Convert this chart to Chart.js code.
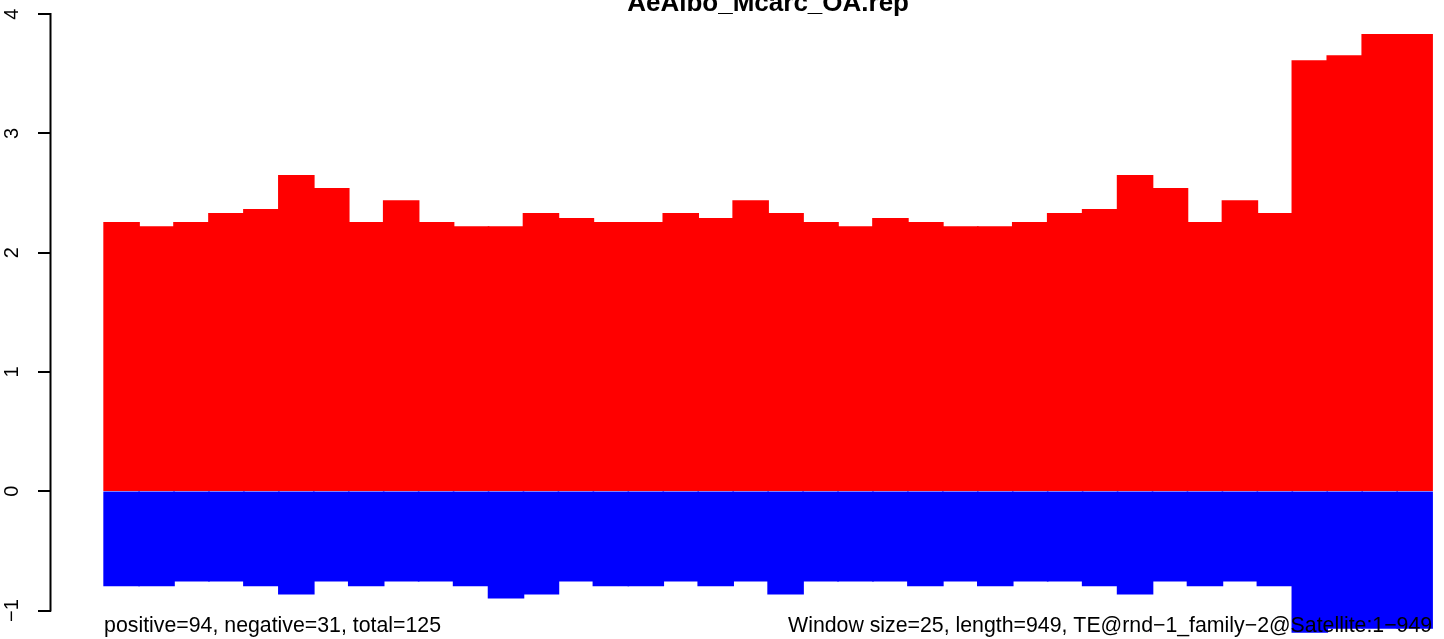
<!DOCTYPE html>
<html>
<head>
<meta charset="utf-8">
<script src="https://cdn.jsdelivr.net/npm/chart.js@4.4.1/dist/chart.umd.min.js"></script>
<style>
  html, body { margin: 0; padding: 0; background: #ffffff; }
  #wrap { width: 1444px; height: 639px; overflow: hidden; }
  canvas { display: block; }
</style>
</head>
<body>
<div id="wrap"><canvas id="c" width="1444" height="639"></canvas></div>
<script>
// ---- data ----
const chartTitle = "AeAlbo_Mcarc_OA.rep";
const leftNote = "positive=94, negative=31, total=125";
const rightNote = "Window size=25, length=949, TE@rnd\u22121_family\u22122@Satellite:1\u2212949";

const windowIndex = [1, 2, 3, 4, 5, 6, 7, 8, 9, 10,
                     11, 12, 13, 14, 15, 16, 17, 18, 19, 20,
                     21, 22, 23, 24, 25, 26, 27, 28, 29, 30,
                     31, 32, 33, 34, 35, 36, 37, 38];

const positiveValues = [2.25, 2.215, 2.25, 2.327, 2.36, 2.645, 2.536, 2.25, 2.433, 2.25,
                        2.215, 2.215, 2.327, 2.285, 2.25, 2.25, 2.327, 2.285, 2.433, 2.327,
                        2.25, 2.215, 2.285, 2.25, 2.215, 2.215, 2.25, 2.327, 2.36, 2.645,
                        2.536, 2.25, 2.433, 2.327, 3.607, 3.649, 3.827, 3.827];

const negativeValues = [-0.79, -0.79, -0.749, -0.749, -0.79, -0.858, -0.749, -0.79, -0.749, -0.749,
                        -0.79, -0.892, -0.858, -0.749, -0.79, -0.79, -0.749, -0.79, -0.749, -0.858,
                        -0.749, -0.749, -0.749, -0.79, -0.749, -0.79, -0.749, -0.749, -0.79, -0.858,
                        -0.749, -0.79, -0.749, -0.79, -1.18, -1.146, -1.146, -1.146];

const yTickValues = [-1, 0, 1, 2, 3, 4];

// ---- chart ----
const FONT = "'Liberation Sans', Arial, Helvetica, sans-serif";
const nWin = windowIndex.length;
const xPad = 0.04 * nWin;
const xMin = windowIndex[0] - 0.5 - xPad;
// chart area runs from x=51 to the canvas edge; one window is ~34.95 px wide
const xMax = xMin + (1444 - 51) / ((1432 - 104) / nWin);
const yMin = -(639 - 491.3) / 119.3;
const yMax = (491.3 - 11) / 119.3;

const rAxisAndNotes = {
  id: 'rAxisAndNotes',
  afterDatasetsDraw(chart) {
    const ctx = chart.ctx;
    const y = chart.scales.y, x = chart.scales.x;
    ctx.save();
    // axis line only between first and last tick, like R's axis()
    ctx.strokeStyle = '#000';
    ctx.lineWidth = 2;
    ctx.beginPath();
    const ax = y.right - 0.5;
    ctx.moveTo(ax, y.getPixelForValue(yTickValues[yTickValues.length - 1]) - 1);
    ctx.lineTo(ax, y.getPixelForValue(yTickValues[0]) + 1);
    ctx.stroke();
    // title, centred over the bars and clipped by the top edge
    const xc = (x.getPixelForValue(windowIndex[0] - 0.5) + x.getPixelForValue(windowIndex[nWin - 1] + 0.5)) / 2;
    ctx.fillStyle = '#000';
    ctx.font = "bold 26px " + FONT;
    ctx.textAlign = 'center';
    ctx.textBaseline = 'alphabetic';
    ctx.fillText(chartTitle, xc, 11);
    // notes under the bars
    ctx.font = "21.3px " + FONT;
    const base = 632;
    ctx.textAlign = 'left';
    ctx.fillText(leftNote, x.getPixelForValue(windowIndex[0] - 0.5), base);
    ctx.textAlign = 'right';
    ctx.fillText(rightNote, x.getPixelForValue(windowIndex[nWin - 1] + 0.5), base);
    ctx.restore();
  }
};

new Chart(document.getElementById('c'), {
  type: 'bar',
  data: {
    datasets: [
      {
        label: 'positive',
        data: windowIndex.map((w, i) => ({ x: w, y: positiveValues[i] })),
        backgroundColor: '#ff0000',
        borderWidth: 0,
        barPercentage: 1,
        categoryPercentage: 1,
        inflateAmount: 0.8
      },
      {
        label: 'negative',
        data: windowIndex.map((w, i) => ({ x: w, y: negativeValues[i] })),
        backgroundColor: '#0000ff',
        borderWidth: 0,
        barPercentage: 1,
        categoryPercentage: 1,
        inflateAmount: 0.8
      }
    ]
  },
  options: {
    responsive: false,
    animation: false,
    devicePixelRatio: 1,
    layout: { padding: { left: 0, right: 0, top: 11, bottom: 0 } },
    plugins: {
      legend: { display: false },
      tooltip: { enabled: false },
      title: { display: false }
    },
    scales: {
      x: {
        type: 'linear',
        stacked: true,
        offset: false,
        min: xMin,
        max: xMax,
        display: false
      },
      y: {
        stacked: true,
        min: yMin,
        max: yMax,
        afterFit(scale) {
          scale.width = 51;
          scale.paddingTop = 0;
          scale.paddingBottom = 0;
        },
        afterBuildTicks(scale) { scale.ticks = yTickValues.map(v => ({ value: v })); },
        border: { display: false },
        grid: {
          drawOnChartArea: false,
          drawTicks: true,
          tickLength: 13,
          color: '#000',
          lineWidth: 2
        },
        ticks: {
          color: '#000',
          font: { family: FONT, size: 20 },
          minRotation: 90,
          maxRotation: 90,
          crossAlign: 'center',
          padding: 14,
          callback: (v) => (v < 0 ? '\u2212' + Math.abs(v) : String(v))
        }
      }
    }
  },
  plugins: [rAxisAndNotes]
});
</script>
</body>
</html>
